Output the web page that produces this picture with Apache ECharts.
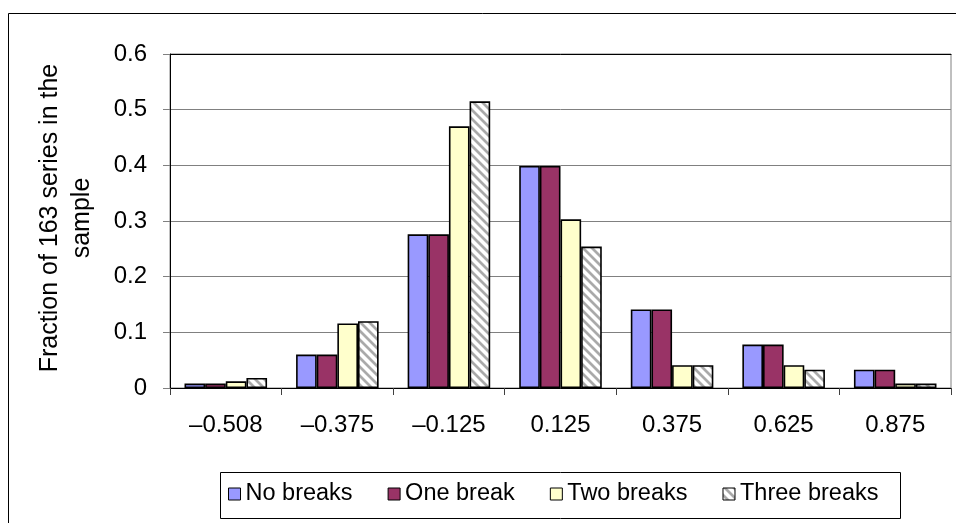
<!DOCTYPE html>
<html>
<head>
<meta charset="utf-8">
<script src="https://cdn.jsdelivr.net/npm/echarts@6/dist/echarts.min.js"></script>
<style>
  html, body { margin: 0; padding: 0; background: #fff; }
  #chart { width: 956px; height: 523px; }
</style>
</head>
<body>
<div id="chart"></div>
<script>
// Break-count distribution across the sample, one group per bin
const categories = ['–0.508', '–0.375', '–0.125', '0.125', '0.375', '0.625', '0.875'];
const seriesNames = ['No breaks', 'One break', 'Two breaks', 'Three breaks'];
const noBreaks    = [0.008, 0.060, 0.276, 0.399, 0.141, 0.078, 0.033];
const oneBreak    = [0.008, 0.060, 0.276, 0.399, 0.141, 0.078, 0.033];
const twoBreaks   = [0.012, 0.116, 0.470, 0.303, 0.041, 0.041, 0.008];
const threeBreaks = [0.018, 0.120, 0.515, 0.254, 0.041, 0.033, 0.008];
const yMin = 0, yMax = 0.6, yStep = 0.1;
const yTitleLines = ['Fraction of 163 series in the', 'sample'];

const FONT = "'Liberation Sans', Arial, sans-serif";

// Soft diagonal grey hatch used for the "Three breaks" bars
function makeHatch() {
  const size = 9;
  const c = document.createElement('canvas');
  c.width = size; c.height = size;
  const ctx = c.getContext('2d');
  const img = ctx.createImageData(size, size);
  for (let y = 0; y < size; y++) {
    for (let x = 0; x < size; x++) {
      const t = ((x - y) % size + size) % size;
      const w = 0.5 + 0.5 * Math.cos(2 * Math.PI * (t - 2) / size);
      const f = Math.min(1, Math.max(0, (w - 0.35) / 0.55));
      const v = Math.round(255 - f * (255 - 168));
      const i = (y * size + x) * 4;
      img.data[i] = v; img.data[i + 1] = v; img.data[i + 2] = v; img.data[i + 3] = 255;
    }
  }
  ctx.putImageData(img, 0, 0);
  return c;
}

const fills = ['#9999FF', '#993366', '#FFFFCC', { image: makeHatch(), repeat: 'repeat' }];
const values = [noBreaks, oneBreak, twoBreaks, threeBreaks];

const chart = echarts.init(document.getElementById('chart'), null, { renderer: 'canvas' });

chart.setOption({
  animation: false,
  backgroundColor: '#fff',
  textStyle: { fontFamily: FONT },
  grid: {
    left: 170, right: 5, top: 54, bottom: 135,
    show: true, borderColor: '#808080', borderWidth: 1, backgroundColor: 'transparent'
  },
  legend: {
    left: 228, top: 482, padding: 0,
    itemWidth: 12, itemHeight: 12, itemGap: 35, itemTextGap: 5,
    icon: 'rect',
    itemStyle: { borderColor: '#000', borderWidth: 1 },
    textStyle: { fontFamily: FONT, fontSize: 23.5, color: '#000' },
    data: seriesNames
  },
  xAxis: [{
    type: 'category',
    data: categories,
    axisLine: { lineStyle: { color: '#000', width: 1 } },
    axisTick: { show: true, length: 7, alignWithLabel: false, lineStyle: { color: '#404040' } },
    axisLabel: { fontFamily: FONT, fontSize: 24, color: '#000', margin: 25 },
    splitLine: { show: false }
  }, {
    type: 'category',
    position: 'top',
    data: categories,
    axisLine: { lineStyle: { color: '#000', width: 1 } },
    axisTick: { show: false },
    axisLabel: { show: false },
    splitLine: { show: false }
  }],
  yAxis: {
    type: 'value',
    min: yMin, max: yMax, interval: yStep,
    axisLine: { show: true, lineStyle: { color: '#000', width: 1 } },
    axisTick: { show: true, length: 7, lineStyle: { color: '#808080' } },
    axisLabel: {
      fontFamily: FONT, fontSize: 24, color: '#000', margin: 23,
      formatter: v => String(+v.toFixed(1))
    },
    splitLine: { show: true, lineStyle: { color: '#808080', width: 1 } }
  },
  series: seriesNames.map((name, k) => ({
    name,
    type: 'bar',
    data: values[k],
    barGap: '0%',
    barCategoryGap: '26%',
    itemStyle: { color: fills[k], borderColor: '#000', borderWidth: 1.6 }
  })),
  graphic: [
    {
      type: 'rect', silent: true,
      shape: { x: 8.5, y: 13.5, width: 1000, height: 600 },
      style: { fill: 'none', stroke: '#000', lineWidth: 1 }
    },
    {
      type: 'rect', silent: true,
      shape: { x: 220.5, y: 472.5, width: 680, height: 46 },
      style: { fill: 'none', stroke: '#000', lineWidth: 1 }
    },
    {
      type: 'text', silent: true,
      x: 50, y: 218, rotation: Math.PI / 2,
      style: { text: yTitleLines[0], font: '25px ' + FONT, fill: '#000', align: 'center', verticalAlign: 'middle' }
    },
    {
      type: 'text', silent: true,
      x: 82, y: 218, rotation: Math.PI / 2,
      style: { text: yTitleLines[1], font: '25px ' + FONT, fill: '#000', align: 'center', verticalAlign: 'middle' }
    }
  ]
});
</script>
</body>
</html>
